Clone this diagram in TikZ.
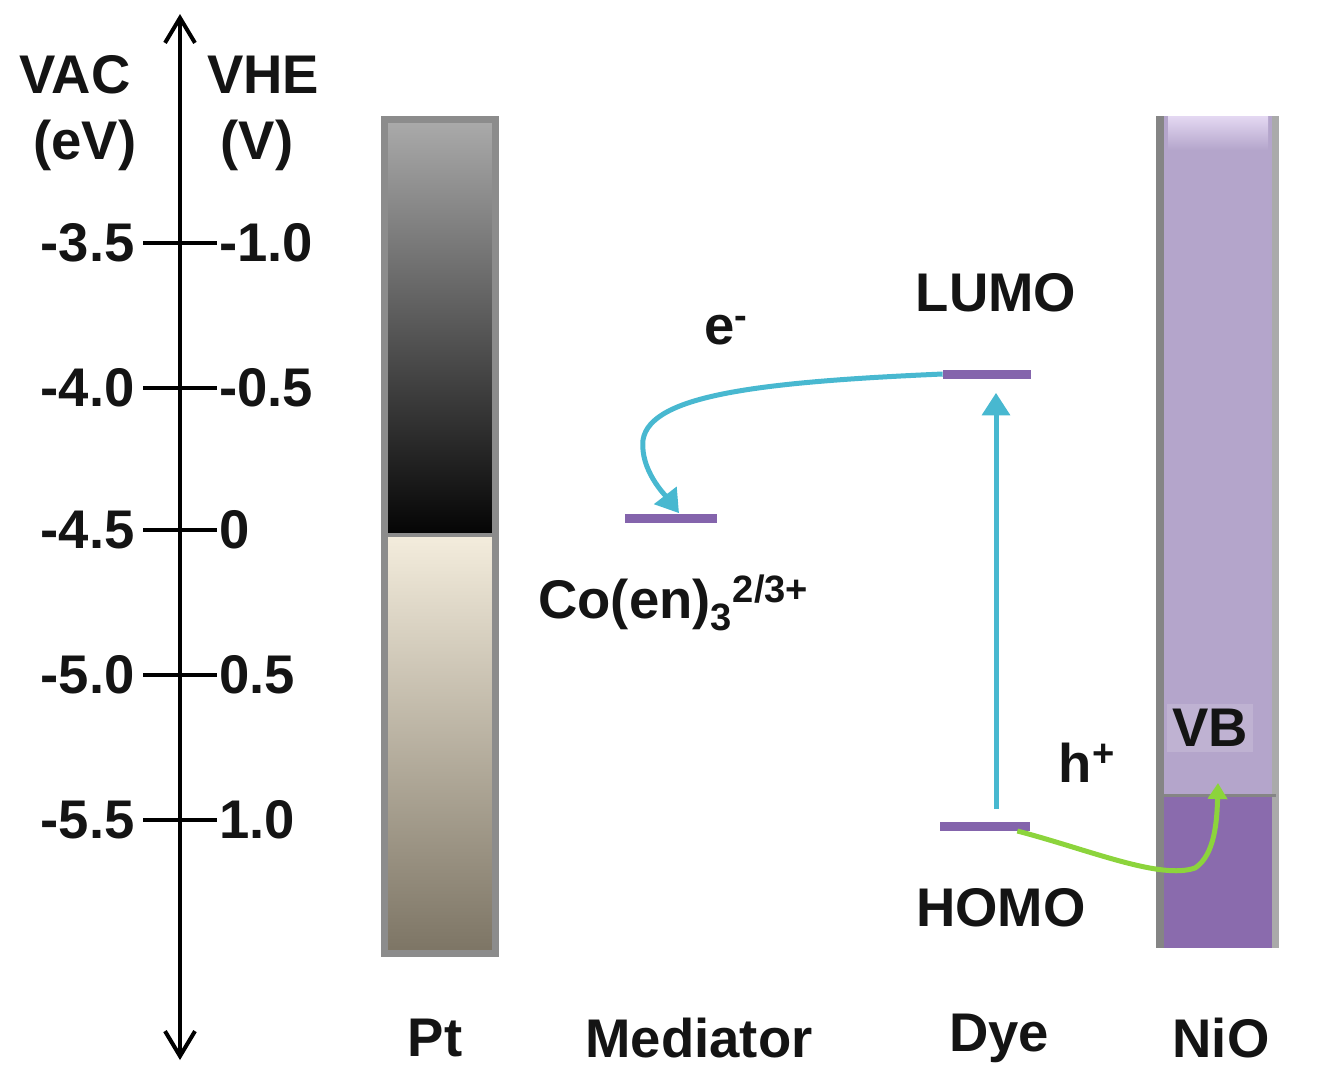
\documentclass[tikz,border=0pt]{standalone}
\usepackage{fontspec}
\setmainfont{Liberation Sans}
\usetikzlibrary{arrows.meta,calc}
\definecolor{levelc}{HTML}{8464AC}
\definecolor{cyanc}{HTML}{48B8D0}
\definecolor{greenc}{HTML}{8CD43C}
\definecolor{ptborder}{HTML}{8C8C8C}
\definecolor{ptatop}{HTML}{AAAAAA}
\definecolor{ptabot}{HTML}{050505}
\definecolor{ptbtop}{HTML}{F3ECDC}
\definecolor{ptbbot}{HTML}{7D7565}
\definecolor{nioup}{HTML}{B4A5CB}
\definecolor{niolight}{HTML}{E4D8F2}
\definecolor{niolow}{HTML}{8A6BAD}
\definecolor{nioborder}{HTML}{858585}
\definecolor{textc}{HTML}{141414}
\begin{document}
\begin{tikzpicture}[x=0.02cm,y=-0.02cm,
  lbl/.style={font=\fontsize{31}{36}\selectfont\bfseries, text=textc, inner sep=0pt},
  axisline/.style={line width=4*0.02cm, black},
  tickline/.style={line width=4*0.02cm, black},
  levelbar/.style={fill=levelc, draw=none, minimum height=9*0.02cm, inner sep=0pt},
  cyanarrow/.style={line width=5*0.02cm, cyanc, -{Triangle[length=0.45cm,width=0.55cm]}},
  greenarrow/.style={line width=5*0.02cm, greenc, -{Triangle[length=0.32cm,width=0.38cm]}}]
\useasboundingbox (0,0) rectangle (1323,1089);

% energy axis
\coordinate (atop) at (180,14);
\coordinate (abot) at (180,1060);
\draw[axisline, {Straight Barb[length=0.5cm,width=0.6cm]}-{Straight Barb[length=0.5cm,width=0.6cm]}] (abot) -- (atop);

\node[lbl] (vac) at (75,75) {VAC};
\node[lbl] (ev) at (85,145) {(eV)};
\node[lbl] (vhe) at (263,75) {VHE};
\node[lbl] (vv) at (257,145) {(V)};

\foreach \yy/\la/\lb/\nm in {243/-3.5/-1.0/a, 388/-4.0/-0.5/b, 530/-4.5/0/c, 675/-5.0/0.5/d, 820/-5.5/1.0/e}{
  \coordinate (tl\nm) at (143,\yy);
  \coordinate (tr\nm) at (217,\yy);
  \draw[tickline] (tl\nm) -- (tr\nm);
  \node[lbl, anchor=east] (la\nm) at (135,\yy) {\la};
  \node[lbl, anchor=west] (lb\nm) at (219,\yy) {\lb};
}

% Pt electrode
\shade[top color=ptatop, bottom color=ptabot] (386,121) rectangle (493,533);
\shade[top color=ptbtop, bottom color=ptbbot] (386,537) rectangle (493,951);
\draw[ptborder, line width=7*0.02cm] (384,119) rectangle (495,953);
\draw[ptborder, line width=4*0.02cm] (386,535) -- (493,535);

% NiO electrode
\fill[nioup] (1160,116) rectangle (1276,795);
\shade[top color=niolight, bottom color=nioup] (1168,116) rectangle (1268,150);
\fill[niolow] (1160,795) rectangle (1276,948);
\draw[nioborder, line width=8*0.02cm] (1160,116) -- (1160,948);
\draw[nioborder!70, line width=7*0.02cm] (1275,116) -- (1275,948);
\draw[nioborder, line width=3*0.02cm] (1160,795) -- (1276,795);

% levels
\node[levelbar, minimum width=92*0.02cm] (med) at (671,518) {};
\node[levelbar, minimum width=88*0.02cm] (lumo) at (987,374) {};
\node[levelbar, minimum width=90*0.02cm] (homo) at (985,826) {};

% labels
\node[lbl] (elab) at (726,330) {e\textsuperscript{-}};
\node[lbl] (lumolab) at (996,293) {LUMO};
\node[lbl] (homolab) at (1001,908) {HOMO};
\node[lbl, anchor=west] (colab) at (538,603) {Co(en)\textsubscript{3}\textsuperscript{2/3+}};
\node[lbl] (hlab) at (1087,763) {h\textsuperscript{+}};
\node[lbl, fill=white, fill opacity=0.15, text opacity=1, inner sep=3pt] (vblab) at (1210,728) {VB};

\node[lbl] (pt) at (435,1038) {Pt};
\node[lbl] (medlab) at (699,1038) {Mediator};
\node[lbl] (dye) at (999,1038) {Dye};
\node[lbl] (nio) at (1221,1038) {NiO};

% electron transfer LUMO -> mediator
\coordinate (medtip) at ($(med.north)+(8,0)$);
\draw[cyanarrow] (lumo.west) .. controls (760,382) and (650,395) .. (643,440)
   .. controls (640,470) and (665,495) .. (medtip);

% excitation HOMO -> LUMO
\coordinate (exbot) at ($(homo.north)+(11,-12)$);
\coordinate (extop) at ($(lumo.south)+(9,14)$);
\draw[cyanarrow] (exbot) -- (extop);

% hole injection HOMO -> VB
\coordinate (hstart) at ($(homo.east)+(-13,5)$);
\coordinate (vbtip) at (1218,783);
\draw[greenarrow] (hstart) .. controls (1090,850) and (1160,880) .. (1195,868)
   .. controls (1215,855) and (1217,820) .. (vbtip);
\end{tikzpicture}
\end{document}
